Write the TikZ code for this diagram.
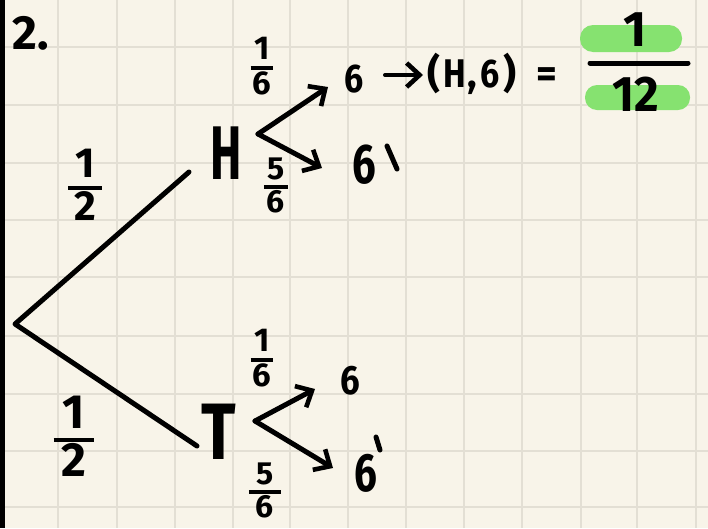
\documentclass[tikz,border=0pt]{standalone}
\usepackage{fontspec}
\setmainfont{Fira Sans}
\usetikzlibrary{arrows.meta}
\definecolor{paper}{HTML}{F8F4E9}
\definecolor{gridc}{HTML}{E3DFD4}
\definecolor{hl}{HTML}{86E270}
\newcommand\fsz[1]{\fontsize{#1}{#1}\selectfont\bfseries}
\newcommand\fr[3]{\renewcommand\arraystretch{0.8}\begin{tabular}{@{\hspace{#1}}c@{\hspace{#1}}}#2\\[-2pt]\noalign{\hrule height 4pt\vskip 2pt}#3\end{tabular}}
\tikzset{
  ink/.style={line width=5pt, line cap=round, line join=round, black},
  arr/.style={ink, -{Straight Barb[length=13pt,width=24pt,line width=4.6pt]}},
  lbl/.style={inner sep=0pt},
}
\begin{document}
\begin{tikzpicture}[x=1pt,y=-1pt]
\useasboundingbox (0,0) rectangle (708,528);
\fill[paper] (0,0) rectangle (708,528);
\foreach \x in {58,117,175,233,290,348,406,464,522,581,637,696}
  \draw[gridc, line width=1.8pt] (\x,0) -- (\x,528);
\foreach \y in {47,105,163,220,277,336,394,451,507}
  \draw[gridc, line width=1.8pt] (0,\y) -- (708,\y);
\fill[black] (0,0) rectangle (5,528);

\node[lbl] (num) at (31,33) {\fsz{48}2.};

% root and first level
\coordinate (root) at (15,324);
\node[lbl] (H) at (226,153) {\fsz{76}\scalebox{0.62}[1]{H}};
\node[lbl] (T) at (219,432) {\fsz{80}\scalebox{0.8}[1]{T}};
\coordinate (Hin) at (189,172);
\coordinate (Tin) at (197,446);
\draw[ink] (Hin) -- (root) -- (Tin);
\node[lbl] (pH) at (85,190) {\fsz{42}\fr{6pt}{1}{2}};
\node[lbl] (pT) at (74,442) {\fsz{48}\fr{8pt}{1}{2}};

% H branch
\coordinate (hv) at (258,134);
\node[lbl] (H6) at (354,79) {\fsz{40}\scalebox{0.85}[1]{6}};
\node[lbl] (H6n) at (364,165) {\fsz{56}\scalebox{0.75}[1]{6}};
\coordinate (hm1) at (387,146);
\coordinate (hm2) at (397,169);
\draw[ink] (hm1) -- (hm2);
\coordinate (hta) at (328,87);
\coordinate (htb) at (322,168);
\draw[arr] (hv) -- (hta);
\draw[arr] (hv) -- (htb);
\node[lbl] (ph1) at (262,70) {\fsz{33}\fr{2pt}{1}{6}};
\node[lbl] (ph2) at (276,189) {\fsz{32}\fr{3pt}{5}{6}};

% result
\coordinate (ra) at (385,75);
\coordinate (rb) at (423,75);
\draw[arr, line width=4pt] (ra) -- (rb);
\node[lbl, anchor=base west] (res) at (427,87) {\fsz{40}(\kern3pt\scalebox{0.85}[1]{H}\kern2pt,\kern3pt\scalebox{0.85}[1]{6}\kern4pt)\hspace{20pt}=};
\fill[hl, rounded corners=13pt] (580,25) rectangle (682,52);
\fill[hl, rounded corners=12pt] (585,85) rectangle (690,110);
\node[lbl] (n1) at (635,30) {\fsz{50}1};
\node[lbl] (n12) at (636,94) {\fsz{50}\scalebox{0.95}[1]{12}};
\coordinate (bl) at (590,63);
\coordinate (br) at (688,63);
\draw[ink] (bl) -- (br);

% T branch
\coordinate (tv) at (255,421);
\node[lbl] (T6) at (350,381) {\fsz{41}\scalebox{0.85}[1]{6}};
\node[lbl] (T6n) at (366,473) {\fsz{54}\scalebox{0.75}[1]{6}};
\coordinate (tm1) at (376,437);
\coordinate (tm2) at (380,450);
\draw[ink] (tm1) -- (tm2);
\coordinate (tta) at (315,389);
\coordinate (ttb) at (333,468);
\draw[arr] (tv) -- (tta);
\draw[arr] (tv) -- (ttb);
\node[lbl] (pt1) at (262,362) {\fsz{33}\fr{2pt}{1}{6}};
\node[lbl] (pt2) at (265,494) {\fsz{32}\fr{7pt}{5}{6}};
\end{tikzpicture}
\end{document}
